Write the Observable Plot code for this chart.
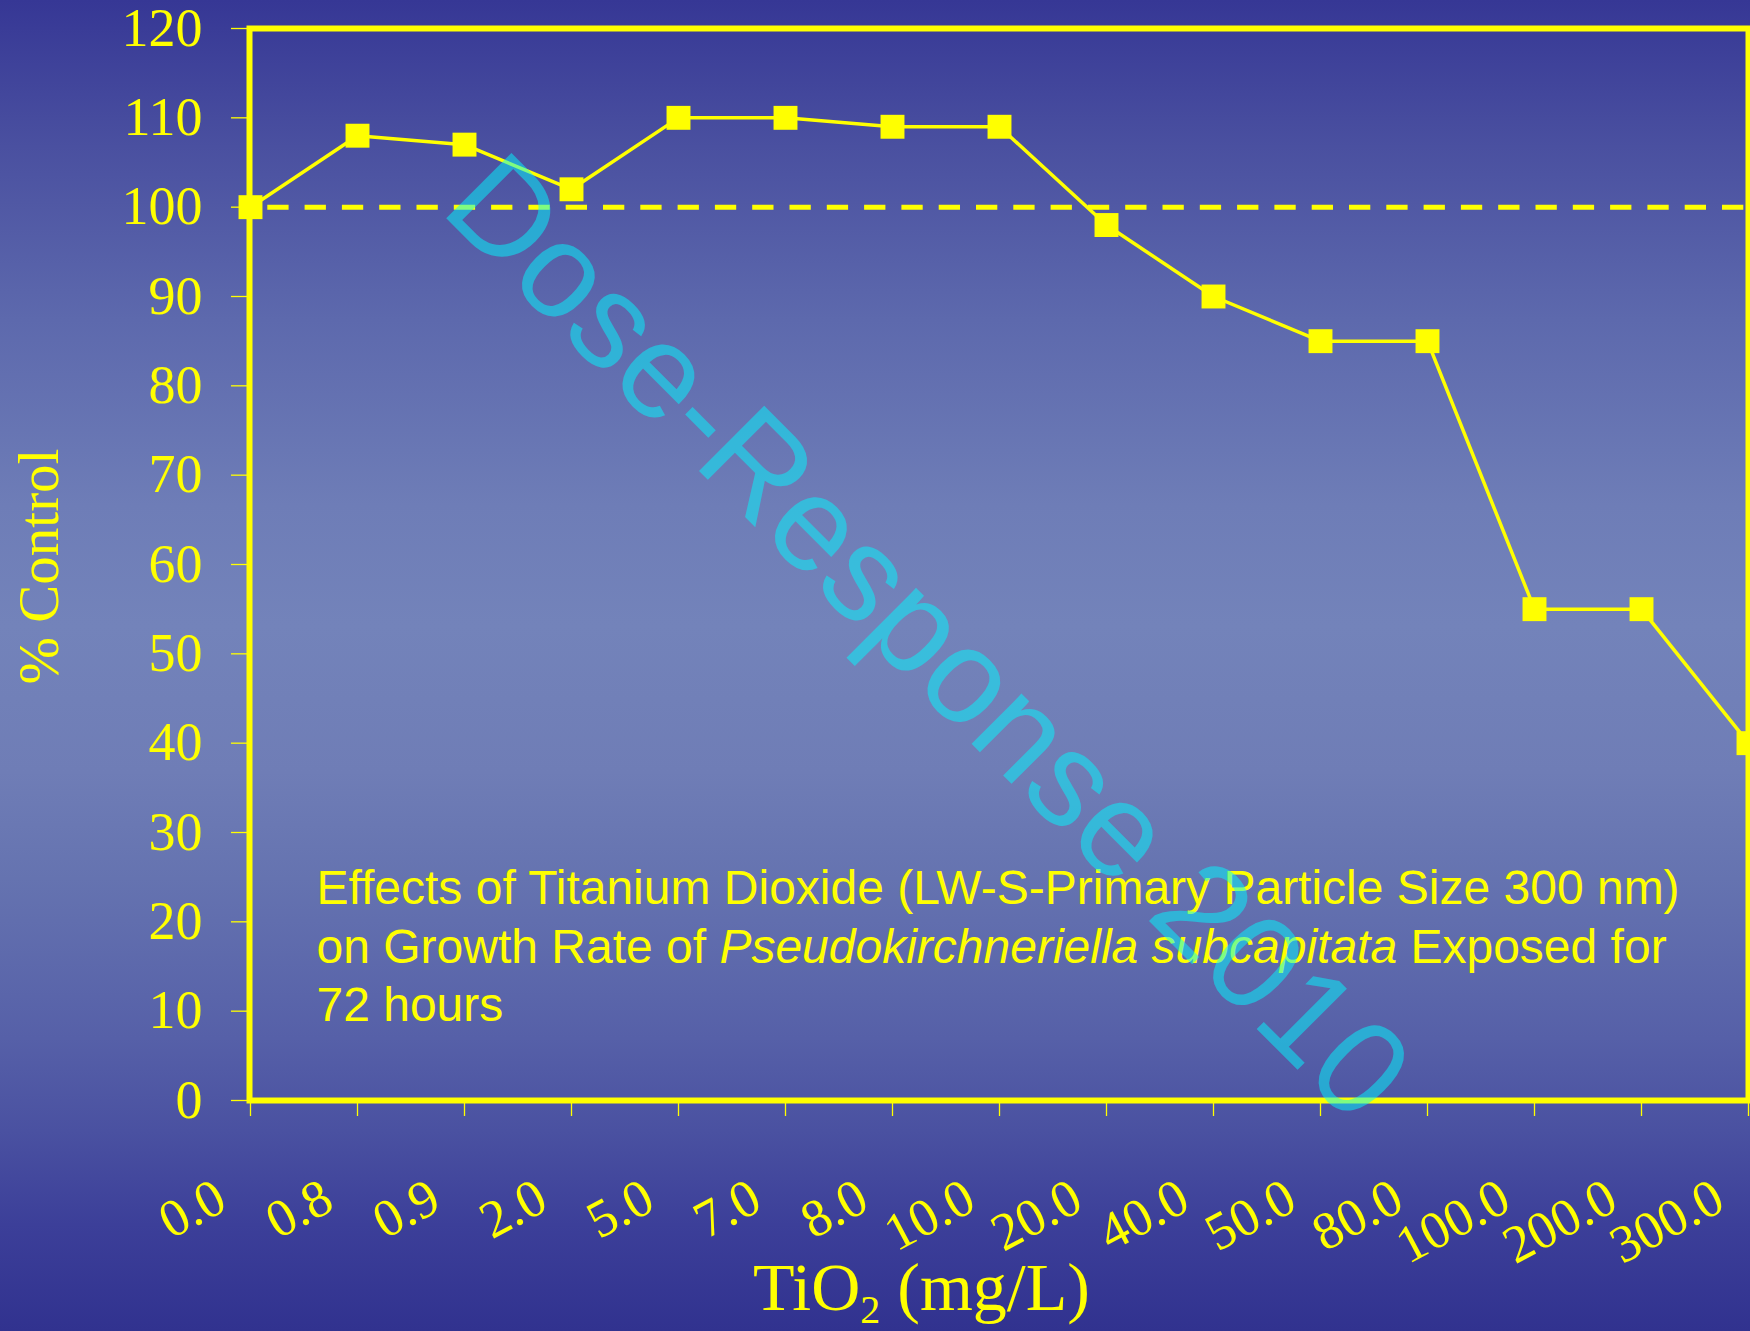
<!DOCTYPE html>
<html><head><meta charset="utf-8">
<script src="https://cdn.jsdelivr.net/npm/d3@7"></script>
<script src="https://cdn.jsdelivr.net/npm/@observablehq/plot@0.6"></script>
<style>
html,body{margin:0;padding:0;}
body{width:1750px;height:1331px;overflow:hidden;
background:linear-gradient(to bottom,#363795 0%,#4a50a0 11%,#5d69ad 24%,#6e7db7 38%,#7383ba 47%,#6f7db6 58%,#6573b0 66%,#5660a8 78%,#4a51a1 85%,#3c3f99 92%,#31328f 100%);}
</style></head><body>
<div id="chart"></div>
<script>
const doses = ["0.0","0.8","0.9","2.0","5.0","7.0","8.0","10.0","20.0","40.0","50.0","80.0","100.0","200.0","300.0"];
const growth = [100,108,107,102,110,110,109,109,98,90,85,85,55,55,40];
const yTicks = [0,10,20,30,40,50,60,70,80,90,100,110,120];
const controlLevel = [100];
const xTitle = "TiO2 (mg/L)";
const yTitle = "% Control";
const noteLines = [
  "Effects of Titanium Dioxide (LW-S-Primary Particle Size 300 nm)",
  "on Growth Rate of Pseudokirchneriella subcapitata Exposed for",
  "72 hours"
];
const italicPart = "Pseudokirchneriella subcapitata";
const watermark = "Dose-Response 2010";

const rows = doses.map((d, i) => ({dose: d, growth: growth[i]}));
const YEL = "#ffff00";
const SANS = "'Liberation Sans', Arial, sans-serif";

const svg = Plot.plot({
  width: 1750, height: 1331,
  marginLeft: 249, marginRight: 2, marginTop: 28, marginBottom: 231,
  style: {background: "transparent", color: YEL, fontFamily: "'Liberation Serif','Times New Roman',serif", overflow: "visible"},
  x: {type: "point", domain: doses, padding: 0},
  y: {domain: [0, 120]},
  marks: [
    Plot.axisY({ticks: yTicks, tickSize: 18, tickPadding: 29, fontSize: 54, strokeWidth: 1.3, label: null}),
    Plot.axisX({tickSize: 16, tickFormat: () => "", strokeWidth: 1.3, label: null}),
    Plot.axisX({tickSize: 0, tickPadding: 93, tickRotate: -28, dx: -29, fontSize: 53, label: null}),
    Plot.frame({stroke: YEL, strokeWidth: 6}),
    Plot.ruleY(controlLevel, {stroke: YEL, strokeWidth: 5, strokeDasharray: "21.3,16", strokeDashoffset: 19}),
    Plot.line(rows, {x: "dose", y: "growth", stroke: YEL, strokeWidth: 3.5}),
    Plot.dot(rows, {x: "dose", y: "growth", symbol: "square", r: 13.5, fill: YEL, stroke: "none"}),
    Plot.text([yTitle], {text: d => d, frameAnchor: "left", textAnchor: "middle", rotate: -90, lineAnchor: "bottom", dx: -192, dy: 2, fontSize: 57, fill: YEL}),
    Plot.text([xTitle], {text: d => d, frameAnchor: "bottom", lineAnchor: "bottom", dx: -77.5, dy: 209, fontSize: 68, fill: YEL}),
    Plot.text([noteLines.join("\n")], {text: d => d, frameAnchor: "top-left", textAnchor: "start", lineAnchor: "top", lineHeight: 1.22, dx: 67, dy: 834, fontSize: 48, fontFamily: SANS, fill: YEL}),
    Plot.text([watermark], {text: d => d, frameAnchor: "middle", rotate: 45, dx: -72, dy: 74, fontSize: 134, fontFamily: SANS, fill: "#00faff", fillOpacity: 0.5})
  ]
});

const NS = "http://www.w3.org/2000/svg";
svg.querySelectorAll("text").forEach(t => {
  if (t.textContent === xTitle) {
    t.textContent = "";
    t.appendChild(document.createTextNode("TiO"));
    const sub = document.createElementNS(NS, "tspan");
    sub.setAttribute("font-size", "40");
    sub.setAttribute("dy", "13");
    sub.textContent = "2";
    t.appendChild(sub);
    const rest = document.createElementNS(NS, "tspan");
    rest.setAttribute("dy", "-13");
    rest.textContent = " (mg/L)";
    t.appendChild(rest);
  }
});
svg.querySelectorAll("tspan").forEach(ts => {
  const s = ts.textContent;
  if (ts.childElementCount === 0 && s.includes(italicPart)) {
    const [a, b] = s.split(italicPart);
    ts.textContent = "";
    ts.appendChild(document.createTextNode(a));
    const it = document.createElementNS(NS, "tspan");
    it.setAttribute("font-style", "italic");
    it.textContent = italicPart;
    ts.appendChild(it);
    ts.appendChild(document.createTextNode(b));
  }
});
document.getElementById("chart").appendChild(svg);
</script>
</body></html>
